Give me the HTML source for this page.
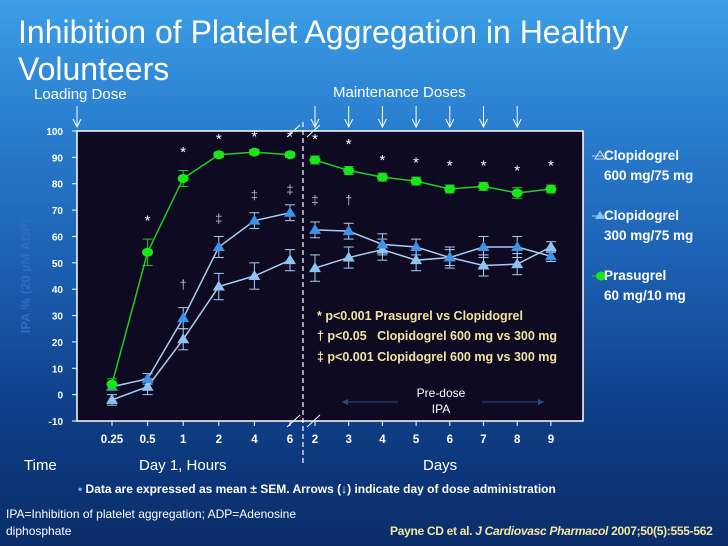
<!DOCTYPE html>
<html><head><meta charset="utf-8"><style>
body{margin:0;width:728px;height:546px;overflow:hidden;font-family:"Liberation Sans",sans-serif;}
#slide{position:relative;width:728px;height:546px;background:linear-gradient(180deg,#3c9ee6 0%,#2a7fd0 22%,#1b5eb0 50%,#0f3f88 75%,#0a2d6a 100%);}
.t{position:absolute;color:#fff;white-space:nowrap;}
</style></head><body>
<div id="slide">
<div class="t" style="left:18px;top:14px;font-size:32px;line-height:37px;">Inhibition of Platelet Aggregation in Healthy<br>Volunteers</div>
<div class="t" style="left:34px;top:86px;font-size:15px;">Loading Dose</div>
<div class="t" style="left:333px;top:84px;font-size:15px;">Maintenance Doses</div>
<svg id="chart" width="728" height="546" style="position:absolute;left:0;top:0;font-family:'Liberation Sans',sans-serif;"></svg>
<div class="t" style="left:604px;top:146px;font-size:13.5px;line-height:20px;font-weight:bold;">Clopidogrel<br>600 mg/75 mg</div>
<div class="t" style="left:604px;top:206px;font-size:13.5px;line-height:20px;font-weight:bold;">Clopidogrel<br>300 mg/75 mg</div>
<div class="t" style="left:604px;top:266px;font-size:13.5px;line-height:20px;font-weight:bold;">Prasugrel<br>60 mg/10 mg</div>
<div class="t" style="left:24px;top:457px;font-size:15px;">Time</div>
<div class="t" style="left:139px;top:457px;font-size:15px;">Day 1, Hours</div>
<div class="t" style="left:423px;top:457px;font-size:15px;">Days</div>
<div class="t" style="left:78px;top:482px;font-size:12px;font-weight:bold;"><span style="color:#6ab8f0">•</span> Data are expressed as mean ± SEM. Arrows (↓) indicate day of dose administration</div>
<div class="t" style="left:6px;top:506px;font-size:12px;line-height:17px;">IPA=Inhibition of platelet aggregation; ADP=Adenosine<br>diphosphate</div>
<div class="t" style="left:390px;top:524px;font-size:12px;font-weight:bold;color:#f5e6a0;letter-spacing:-0.3px;">Payne CD et al. <i>J Cardiovasc Pharmacol</i> 2007;50(5):555-562</div>
</div>
<script>
const categories=["0.25","0.5","1","2","4","6","2","3","4","5","6","7","8","9"];
const prasugrel=[4,54,82,91,92,91,89,85,82.5,81,78,79,76.5,78];
const prasugrelSem=[2,5,3,1,1,1,1.5,1.5,1.5,1.5,1.5,1.5,2,1.5];
const clop600=[3,6,29,56,66,69,62.5,62,57,56,52,56,56,52.5];
const clop600Sem=[1,2,4,4,3,3,3,3,4,3,4,4,4,2];
const clop300=[-2,3,21,41,45,51,48,52,55,51,52,49,49.5,56];
const clop300Sem=[2,3,4,5,5,4,5,4,4,4,3,4,4,2];
const yTicks=[100,90,80,70,60,50,40,30,20,10,0,-10];
const doseArrowIdx=[0,6,7,8,9,10,11,12];
const NS="http://www.w3.org/2000/svg";
const svg=document.getElementById('chart');
const L=77,R=583,T=131,B=421;
function y(v){return T+(100-v)*(B-T)/110;}
function x(i){return i<6?112+i*35.6:315+(i-6)*33.7;}
function mk(tag,attrs,parent){const e=document.createElementNS(NS,tag);for(const k in attrs)e.setAttribute(k,attrs[k]);(parent||svg).appendChild(e);return e;}
let e;
e=mk('rect',{x:L,y:T,width:R-L,height:B-T,fill:'#0d0a22',stroke:'#fff','stroke-width':1.5});

yTicks.forEach(v=>{
 const t=mk('text',{x:L-14,y:y(v)+4,fill:'#fff','font-size':10,'font-weight':'bold','text-anchor':'end'});t.textContent=v;
 
 mk('line',{x1:L-5,x2:L,y1:y(v),y2:y(v),stroke:'#fff'});
});
categories.forEach((c,i)=>{
 const t=mk('text',{x:x(i),y:B+22,fill:'#fff','font-size':11.5,'font-weight':'bold','text-anchor':'middle'});t.textContent=c;
 
 mk('line',{x1:x(i),x2:x(i),y1:B,y2:B+5,stroke:'#fff'});
});
e=mk('text',{x:30,y:276,fill:'#2e6cc0','font-size':13,'font-weight':'bold','text-anchor':'middle',transform:'rotate(-90 30 276)'});e.textContent='IPA % (20 µM ADP)';

e=mk('line',{x1:303,x2:303,y1:122,y2:466,stroke:'#fff','stroke-dasharray':'5,3','stroke-width':1.2});

[[287,300],[307,320]].forEach(p=>{mk('line',{x1:p[0],y1:T+6,x2:p[1],y2:T-6,stroke:'#fff'});mk('line',{x1:p[0],y1:B+6,x2:p[1],y2:B-6,stroke:'#fff'});});
doseArrowIdx.forEach(i=>{
 const g=mk('g',{});
 const ax=i===0?77:x(i);
 mk('line',{x1:ax,x2:ax,y1:106,y2:127,stroke:'#fff','stroke-width':1},g);
 mk('polyline',{points:`${ax-4},119 ${ax},127 ${ax+4},119`,fill:'none',stroke:'#fff'},g);
});
function series(vals,sem,color,lineCol,shape,name){
 const g=mk('g',{});
 const seg=(a,b)=>mk('polyline',{points:vals.slice(a,b).map((v,k)=>x(a+k)+','+y(v)).join(' '),fill:'none',stroke:lineCol,'stroke-width':1.5},g);
 seg(0,6);seg(6,14);
 vals.forEach((v,i)=>{
  const cx=x(i),up=y(v+sem[i]),dn=y(v-sem[i]);
  mk('line',{x1:cx,x2:cx,y1:up,y2:dn,stroke:lineCol},g);
  mk('line',{x1:cx-5,x2:cx+5,y1:up,y2:up,stroke:lineCol},g);
  mk('line',{x1:cx-5,x2:cx+5,y1:dn,y2:dn,stroke:lineCol},g);
  let m;
  if(shape==='c')m=mk('ellipse',{cx:cx,cy:y(v),rx:5.5,ry:4.5,fill:color},g);
  else m=mk('polygon',{points:`${cx},${y(v)-6} ${cx-6},${y(v)+4} ${cx+6},${y(v)+4}`,fill:color},g);
  
 });
}
series(clop300,clop300Sem,'#8ec2f0','#a9cdf2','t','series-clopidogrel-300');
series(clop600,clop600Sem,'#3d94e6','#a9cdf2','t','series-clopidogrel-600');
series(prasugrel,prasugrelSem,'#19e619','#22cc22','c','series-prasugrel');
const marks=[[1,'*',66],[2,'*',92],[3,'*',97],[4,'*',98],[5,'*',98],[6,'*',97],[7,'*',95],[8,'*',89],[9,'*',88],[10,'*',87],[11,'*',87],[12,'*',85],[13,'*',87],[2,'†',42],[3,'‡',67],[4,'‡',76],[5,'‡',78],[6,'‡',74],[7,'†',74]];
marks.forEach(m=>{const t=mk('text',{x:x(m[0]),y:y(m[2])+5,fill:m[1]==='*'?'#fff':'#bbb','font-size':m[1]==='*'?15:13,'text-anchor':'middle'});t.textContent=m[1];
 });
const lg=[['* p<0.001 Prasugrel vs Clopidogrel',320],['† p<0.05   Clopidogrel 600 mg vs 300 mg',340],['‡ p<0.001 Clopidogrel 600 mg vs 300 mg',361]];
lg.forEach(l=>{const t=mk('text',{x:317,y:l[1],fill:'#f2e3a0','font-size':12.5,'font-weight':'bold',style:'white-space:pre'});t.textContent=l[0];
 });
e=mk('text',{x:441,y:397,fill:'#fff','font-size':12,'text-anchor':'middle'});e.textContent='Pre-dose';

e=mk('text',{x:441,y:413,fill:'#fff','font-size':12,'text-anchor':'middle'});e.textContent='IPA';
mk('line',{x1:342,x2:398,y1:402,y2:402,stroke:'#2b4a80'});mk('polyline',{points:'348,399 342,402 348,405',fill:'#2b4a80'});
mk('line',{x1:482,x2:544,y1:402,y2:402,stroke:'#2b4a80'});mk('polyline',{points:'538,399 544,402 538,405',fill:'#2b4a80'});
mk('line',{x1:592,x2:604,y1:156,y2:156,stroke:'#a9cdf2'});mk('polygon',{points:'600,151 595,159 605,159',fill:'none',stroke:'#cfe3f7'});
mk('line',{x1:592,x2:604,y1:216,y2:216,stroke:'#a9cdf2'});mk('polygon',{points:'600,211 595,219 605,219',fill:'#8ec2f0'});
mk('line',{x1:592,x2:604,y1:276,y2:276,stroke:'#22cc22'});mk('ellipse',{cx:601,cy:276,rx:5,ry:4.5,fill:'#19e619'});
</script>
</body></html>
